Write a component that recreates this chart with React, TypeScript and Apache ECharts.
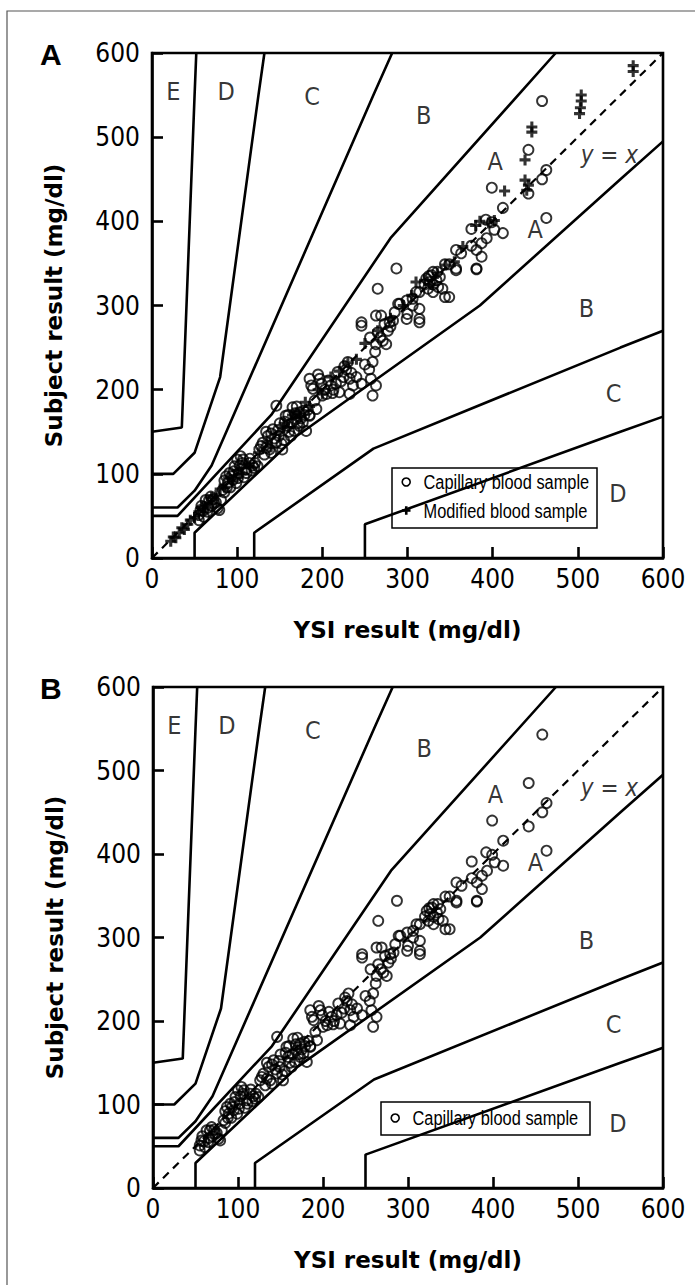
import React, { useEffect, useRef } from "react";
import * as echarts from "echarts";

const COND = '"DejaVu Sans Condensed", "Liberation Sans", sans-serif';
const SANS = '"Liberation Sans", Arial, sans-serif';
const TITLE = '"DejaVu Sans", "Liberation Sans", sans-serif';

// Parkes (consensus) error grid boundaries, type 1 diabetes, extended to plot edge
const zoneAUpper = [[0, 50], [30, 50], [140, 170], [280, 380], [474, 600]];
const zoneALower = [[50, 0], [50, 30], [170, 145], [385, 300], [550, 450], [600, 495]];
const zoneBUpper = [[0, 60], [30, 60], [50, 80], [70, 110], [260, 550], [282, 600]];
const zoneBLower = [[120, 0], [120, 30], [260, 130], [550, 250], [600, 270]];
const zoneCUpper = [[0, 100], [25, 100], [50, 125], [80, 215], [125, 550], [132, 600]];
const zoneCLower = [[250, 0], [250, 40], [550, 150], [600, 168]];
const zoneDUpper = [[0, 150], [35, 155], [50, 550], [52, 600]];
const identityLine = [[0, 0], [600, 600]];

const zoneLabelNames = ["E", "D", "C", "B", "A", "A", "B", "C", "D"];
const zoneLabelX = [25, 87, 188, 319, 403, 450, 510, 542, 547];
const zoneLabelY = [554, 554, 548, 526, 471, 390, 297, 196, 77];

const identityLabel = "y = x";
const identityLabelPos = [537, 479];

const capillary = [
  [55, 45], [55, 51], [57, 57], [61, 49], [65, 55], [67, 69], [69, 73], [73, 65], [77, 59], [81, 69], [79, 57], [63, 69],
  [58, 62], [60, 56], [66, 60], [70, 62], [72, 70], [75, 66], [85, 78],
  [83, 81], [87, 97], [89, 89], [91, 101], [95, 93], [97, 109], [99, 89], [100, 117], [102, 101], [104, 121], [106, 113],
  [110, 105], [114, 113], [118, 110], [120, 107], [124, 109], [92, 84], [108, 96],
  [85, 92], [88, 84], [93, 97], [96, 103], [101, 95], [103, 110], [107, 117], [111, 101], [115, 118], [117, 104], [121, 113],
  [126, 129], [130, 137], [132, 123], [136, 145], [138, 129], [142, 153], [146, 137], [146, 181], [149, 145], [153, 129],
  [157, 169], [159, 157], [163, 145], [165, 179], [167, 151], [169, 165], [173, 173], [173, 157], [177, 161], [181, 151],
  [150, 160], [155, 140], [160, 170], [170, 180], [178, 175], [185, 170],
  [128, 133], [134, 131], [140, 148], [144, 142], [148, 152], [152, 136], [156, 162], [161, 150], [164, 160], [168, 172],
  [171, 160], [175, 166], [179, 170], [183, 176], [140, 125], [134, 150],
  [185, 213], [189, 201], [191, 187], [193, 177], [185, 169], [197, 213], [199, 207], [200, 193], [205, 195], [210, 205],
  [216, 207], [218, 221], [220, 197], [228, 224], [230, 233], [232, 213], [232, 195], [225, 215], [213, 200],
  [187, 205], [195, 218], [203, 200], [207, 211], [212, 196], [222, 210], [226, 228], [234, 220], [236, 205], [240, 215],
  [246, 280], [246, 276], [246, 207], [255, 224], [259, 233], [259, 193], [263, 205], [257, 213], [265, 320], [263, 288],
  [265, 268], [263, 254], [275, 254], [273, 278], [277, 270], [269, 288], [283, 282], [271, 258], [279, 280],
  [250, 230], [256, 262], [268, 262], [280, 275], [262, 245],
  [287, 344], [289, 302], [299, 306], [299, 284], [306, 300], [314, 296], [314, 284], [310, 316], [322, 332], [326, 328],
  [330, 316], [330, 340], [324, 320], [314, 316], [306, 308], [291, 302], [285, 292], [314, 280],
  [330, 325], [334, 330], [338, 334], [328, 336], [336, 322], [341, 320], [344, 310], [349, 310], [344, 349], [349, 349],
  [357, 366], [363, 362], [381, 366], [387, 358], [381, 343], [357, 342], [375, 371], [387, 374], [393, 380], [402, 390],
  [412, 386], [375, 391], [392, 402], [399, 399], [412, 416], [399, 440], [442, 485], [442, 433], [458, 450], [463, 461],
  [463, 404], [458, 543], [357, 344], [381, 344], [320, 325], [325, 335], [335, 340], [300, 290],
];

const modified = [
  [22, 20], [25, 25], [28, 24], [32, 30], [35, 36], [38, 34], [42, 40], [45, 45], [50, 48], [55, 55], [58, 60], [62, 58],
  [65, 66], [70, 72], [75, 74], [80, 82], [85, 84], [90, 95], [95, 92], [100, 104], [105, 100], [110, 112], [115, 108],
  [125, 125], [135, 138], [140, 132], [150, 150], [155, 160], [160, 155], [165, 170], [170, 172], [175, 168], [180, 185],
  [185, 180], [195, 200], [200, 195], [210, 215], [220, 222], [230, 232], [240, 236], [250, 255], [265, 270], [280, 285],
  [295, 300], [305, 312], [310, 328], [320, 330], [328, 325], [335, 338], [345, 348], [355, 352], [365, 370], [380, 395],
  [385, 400], [395, 398], [402, 401], [414, 436], [438, 449], [442, 443], [440, 437], [438, 473], [446, 512], [446, 506],
  [504, 550], [504, 543], [503, 535], [502, 528], [565, 585], [565, 578],
];

const legendCapillary = "Capillary blood sample";
const legendModified = "Modified blood sample";
const xTitle = "YSI result (mg/dl)";
const yTitle = "Subject result (mg/dl)";

const PLUS = "path://M3.6,0H6.4V3.6H10V6.4H6.4V10H3.6V6.4H0V3.6H3.6Z";

function lineSeries(data: number[][], idx: number, dashed = false) {
  return {
    type: "line",
    xAxisIndex: idx,
    yAxisIndex: idx,
    data,
    symbol: "none",
    silent: true,
    clip: true,
    z: 2,
    lineStyle: dashed
      ? { color: "#000", width: 2.2, type: [8, 6] }
      : { color: "#000", width: 2.6 },
  };
}

function labelSeries(idx: number, data: any[], label: any) {
  return {
    type: "scatter",
    xAxisIndex: idx,
    yAxisIndex: idx,
    symbolSize: 1,
    silent: true,
    z: 3,
    itemStyle: { color: "rgba(0,0,0,0)" },
    label: { show: true, position: "inside", formatter: (p: any) => p.name, color: "#000", ...label },
    data,
  };
}

function panelSeries(idx: number, withModified: boolean) {
  const s: any[] = [
    lineSeries(zoneAUpper, idx),
    lineSeries(zoneALower, idx),
    lineSeries(zoneBUpper, idx),
    lineSeries(zoneBLower, idx),
    lineSeries(zoneCUpper, idx),
    lineSeries(zoneCLower, idx),
    lineSeries(zoneDUpper, idx),
    lineSeries(identityLine, idx, true),
    labelSeries(
      idx,
      zoneLabelNames.map((n, i) => ({ name: n, value: [zoneLabelX[i], zoneLabelY[i]] })),
      { fontSize: 25, fontFamily: COND }
    ),
    labelSeries(idx, [{ name: identityLabel, value: identityLabelPos }], {
      fontSize: 24,
      fontStyle: "italic",
      fontFamily: COND,
    }),
    {
      name: legendCapillary,
      type: "scatter",
      xAxisIndex: idx,
      yAxisIndex: idx,
      symbol: "circle",
      symbolSize: 10,
      z: 4,
      itemStyle: { color: "rgba(0,0,0,0)", borderColor: "#000", borderWidth: 1.9 },
      data: capillary,
    },
  ];
  if (withModified) {
    s.push({
      name: legendModified,
      type: "scatter",
      xAxisIndex: idx,
      yAxisIndex: idx,
      symbol: PLUS,
      symbolSize: 11,
      z: 5,
      itemStyle: { color: "#000" },
      data: modified,
    });
  }
  return s;
}

const axisCommon = {
  type: "value",
  min: 0,
  max: 600,
  interval: 100,
  splitLine: { show: false },
  axisLine: { show: true, lineStyle: { color: "#000", width: 2.6 } },
  axisTick: { show: true, inside: true, length: 11, lineStyle: { color: "#000", width: 2.6 } },
  nameLocation: "middle",
  nameTextStyle: { color: "#000", fontSize: 23, fontWeight: "bold", fontFamily: TITLE },
};

function xAxisFor(idx: number) {
  return {
    ...axisCommon,
    gridIndex: idx,
    axisLabel: { color: "#000", fontSize: 26, margin: 8, fontFamily: COND },
    name: xTitle,
    nameGap: 60,
  };
}

function yAxisFor(idx: number) {
  return {
    ...axisCommon,
    gridIndex: idx,
    axisLabel: { color: "#000", fontSize: 26, margin: 12, fontFamily: COND },
    name: yTitle,
    nameGap: 87,
  };
}

function legendBox(x: number, y: number, w: number, h: number, rows: { label: string; plus: boolean }[]) {
  const children: any[] = [
    { type: "rect", shape: { x, y, width: w, height: h }, style: { fill: "#fff", stroke: "#000", lineWidth: 1.5 } },
  ];
  rows.forEach((r, i) => {
    const cy = y + 14 + (h > 40 ? 0 : 2) + i * 28.5;
    if (r.plus) {
      children.push({ type: "rect", shape: { x: x + 10, y: cy - 1.3, width: 8.5, height: 2.6 }, style: { fill: "#000" } });
      children.push({ type: "rect", shape: { x: x + 12.95, y: cy - 4.25, width: 2.6, height: 8.5 }, style: { fill: "#000" } });
    } else {
      children.push({ type: "circle", shape: { cx: x + 14.2, cy, r: 4 }, style: { fill: "none", stroke: "#000", lineWidth: 1.6 } });
    }
    children.push({
      type: "text",
      x: x + 31.5,
      y: cy,
      scaleX: 0.78,
      style: { text: r.label, fontSize: 21, fontFamily: SANS, fill: "#000", verticalAlign: "middle", align: "left" },
    });
  });
  return { type: "group", children };
}

const option: any = {
  animation: false,
  backgroundColor: "#fff",
  grid: [
    { left: 152, top: 53, width: 511, height: 505, show: true, borderColor: "#000", borderWidth: 2.6, backgroundColor: "transparent" },
    { left: 153, top: 687, width: 510, height: 501, show: true, borderColor: "#000", borderWidth: 2.6, backgroundColor: "transparent" },
  ],
  xAxis: [xAxisFor(0), xAxisFor(1)],
  yAxis: [yAxisFor(0), yAxisFor(1)],
  series: [...panelSeries(0, true), ...panelSeries(1, false)],
  graphic: [
    { type: "rect", shape: { x: 7, y: 11, width: 720, height: 1320 }, style: { fill: "none", stroke: "#555", lineWidth: 1.2 }, z: -1 },
    { type: "text", x: 40, y: 54, style: { text: "A", fontSize: 30, fontWeight: "bold", fontFamily: SANS, fill: "#000", verticalAlign: "middle" } },
    { type: "text", x: 40, y: 688, style: { text: "B", fontSize: 30, fontWeight: "bold", fontFamily: SANS, fill: "#000", verticalAlign: "middle" } },
    legendBox(392, 468, 205, 60, [
      { label: legendCapillary, plus: false },
      { label: legendModified, plus: true },
    ]),
    legendBox(381, 1102, 209, 33, [{ label: legendCapillary, plus: false }]),
  ],
};

export default function App() {
  const ref = useRef<HTMLDivElement>(null);
  useEffect(() => {
    if (!ref.current) return;
    const chart = echarts.init(ref.current, null, { renderer: "svg" });
    chart.setOption(option);
    return () => chart.dispose();
  }, []);
  return (
    <div
      ref={ref}
      style={{ position: "absolute", left: 0, top: 0, width: 695, height: 1285, background: "#fff" }}
    />
  );
}
